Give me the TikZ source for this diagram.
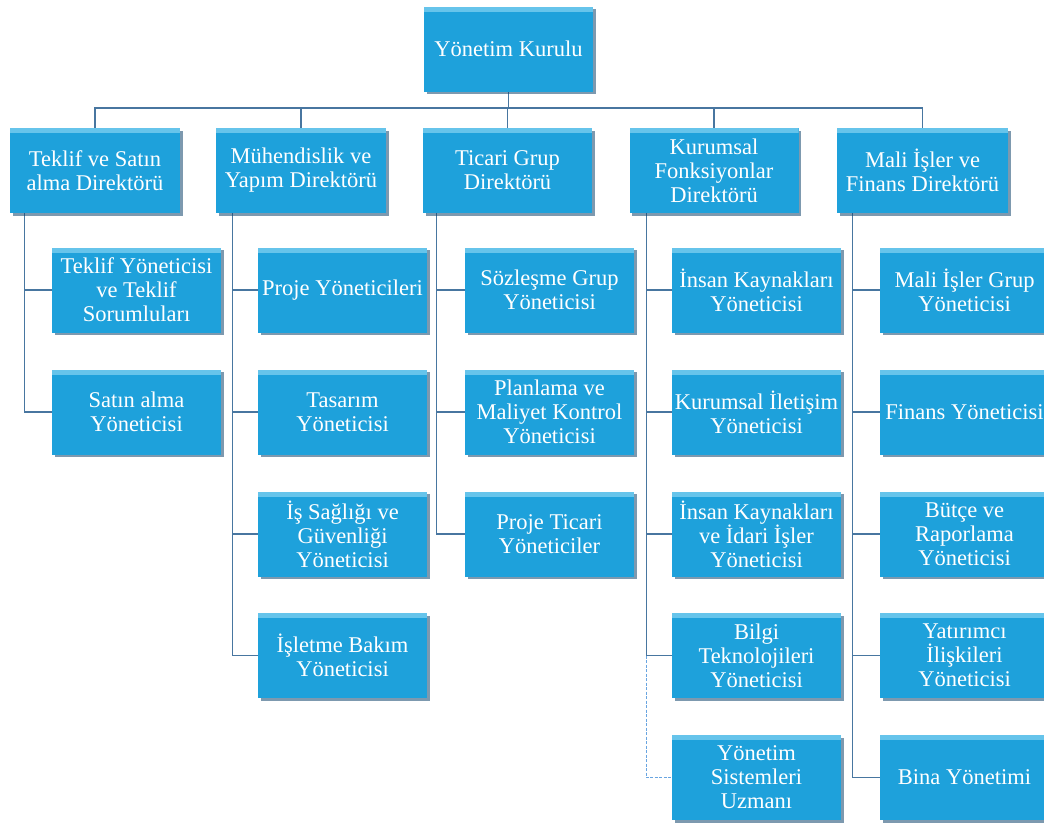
\documentclass[tikz,border=0pt]{standalone}
\usepackage{fontspec}
\setmainfont{Liberation Serif}
\usetikzlibrary{shadows,backgrounds}
\definecolor{boxfill}{RGB}{30,161,219}
\definecolor{boxtop}{RGB}{120,205,240}
\definecolor{linecol}{RGB}{72,118,160}
\definecolor{lightline}{RGB}{105,165,225}
\definecolor{shadowcol}{RGB}{20,70,110}
\tikzset{
  unit/.style={x=1pt,y=-1pt},
  orgbox/.style={rectangle, fill=boxfill, text=white, minimum width=169pt, minimum height=85pt,
    inner sep=0pt, align=center, font=\fontsize{22.5}{24}\selectfont,
    drop shadow={shadow xshift=2.5pt, shadow yshift=-2.5pt, fill=shadowcol, opacity=0.55},
    path picture={\fill[boxtop,opacity=0.8] (path picture bounding box.north west) rectangle ([yshift=-5pt]path picture bounding box.north east);}},
  conn/.style={draw=linecol, line width=1.2pt},
  connlight/.style={draw=lightline, line width=1.6pt, dash pattern=on 3pt off 1.5pt}
}
\begin{document}
\begin{tikzpicture}[unit]
\useasboundingbox (0,0) rectangle (1044,823);
% root
\node[orgbox] (root) at (508.5,49) {Yönetim Kurulu};
% directors
\node[orgbox,minimum width=170pt] (d1) at (95,170.5) {Teklif ve Satın\\alma Direktörü};
\node[orgbox,minimum width=170pt] (d2) at (301,170.5) {Mühendislik ve\\Yapım Direktörü};
\node[orgbox] (d3) at (507.5,170.5) {Ticari Grup\\Direktörü};
\node[orgbox] (d4) at (714,170.5) {Kurumsal\\Fonksiyonlar\\Direktörü};
\node[orgbox,minimum width=171pt] (d5) at (922.5,170.5) {Mali İşler ve\\Finans Direktörü};
% column 1
\node[orgbox] (c11) at (136.5,290) {Teklif Yöneticisi\\ve Teklif\\Sorumluları};
\node[orgbox] (c12) at (136.5,412) {Satın alma\\Yöneticisi};
% column 2
\node[orgbox] (c21) at (342.5,290) {Proje Yöneticileri};
\node[orgbox] (c22) at (342.5,412) {Tasarım\\Yöneticisi};
\node[orgbox] (c23) at (342.5,534) {İş Sağlığı ve\\Güvenliği\\Yöneticisi};
\node[orgbox] (c24) at (342.5,655.5) {İşletme Bakım\\Yöneticisi};
% column 3
\node[orgbox] (c31) at (549.5,290) {Sözleşme Grup\\Yöneticisi};
\node[orgbox] (c32) at (549.5,412) {Planlama ve\\Maliyet Kontrol\\Yöneticisi};
\node[orgbox] (c33) at (549.5,534) {Proje Ticari\\Yöneticiler};
% column 4
\node[orgbox] (c41) at (756.5,290) {İnsan Kaynakları\\Yöneticisi};
\node[orgbox] (c42) at (756.5,412) {Kurumsal İletişim\\Yöneticisi};
\node[orgbox] (c43) at (756.5,534) {İnsan Kaynakları\\ve İdari İşler\\Yöneticisi};
\node[orgbox] (c44) at (756.5,655.5) {Bilgi\\Teknolojileri\\Yöneticisi};
\node[orgbox] (c45) at (756.5,777.5) {Yönetim\\Sistemleri\\Uzmanı};
% column 5
\node[orgbox] (c51) at (964.5,290) {Mali İşler Grup\\Yöneticisi};
\node[orgbox] (c52) at (964.5,412) {Finans Yöneticisi};
\node[orgbox] (c53) at (964.5,534) {Bütçe ve\\Raporlama\\Yöneticisi};
\node[orgbox] (c54) at (964.5,655.5) {Yatırımcı\\İlişkileri\\Yöneticisi};
\node[orgbox] (c55) at (964.5,777.5) {Bina Yönetimi};
% connectors
\begin{scope}[on background layer]
\fill[white] (0,0) rectangle (1044,823);
\coordinate (bus) at (508.5,108);
\draw[conn] (root.south) -- (bus);
\draw[conn] (d1.north) |- (bus) -| (d5.north);
\foreach \d in {d2,d3,d4}{\draw[conn] (\d.north) -- (\d.north |- bus);}
\coordinate (v1) at ([xshift=15pt]d1.south west);
\coordinate (v2) at ([xshift=17pt]d2.south west);
\coordinate (v3) at ([xshift=14pt]d3.south west);
\coordinate (v4) at ([xshift=17pt]d4.south west);
\coordinate (v5) at ([xshift=16pt]d5.south west);
\foreach \c in {c11,c12}{\draw[conn] (v1) |- (\c.west);}
\foreach \c in {c21,c22,c23,c24}{\draw[conn] (v2) |- (\c.west);}
\foreach \c in {c31,c32,c33}{\draw[conn] (v3) |- (\c.west);}
\foreach \c in {c41,c42,c43,c44}{\draw[conn] (v4) |- (\c.west);}
\draw[connlight] (v4 |- c44.west) |- (c45.west);
\foreach \c in {c51,c52,c53,c54,c55}{\draw[conn] (v5) |- (\c.west);}
\end{scope}
\end{tikzpicture}
\end{document}
